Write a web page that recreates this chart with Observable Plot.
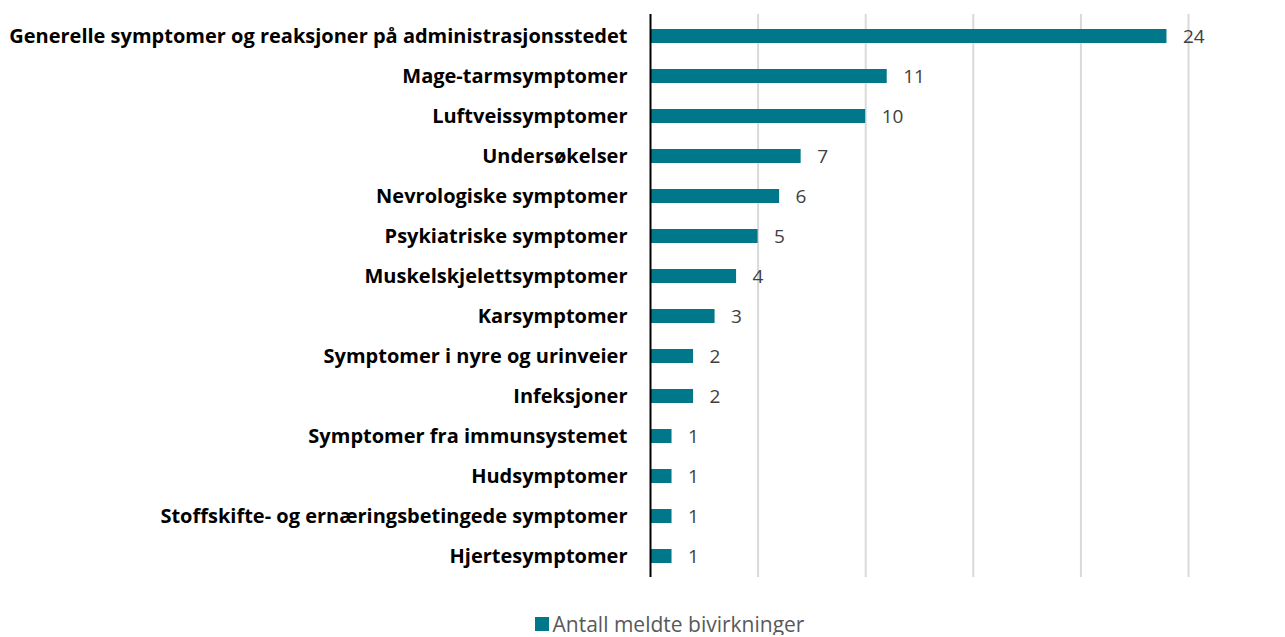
<!DOCTYPE html>
<html>
<head>
<meta charset="utf-8">
<script src="https://cdn.jsdelivr.net/npm/d3@7"></script>
<script src="https://cdn.jsdelivr.net/npm/@observablehq/plot@0.6"></script>
<style>
body{margin:0;background:#fff;font-family:"Open Sans",sans-serif;}
#legend{display:flex;justify-content:center;align-items:center;margin-left:54px;margin-top:13px;font-size:21px;color:#595959;line-height:22px;}
#legend span.sw{display:inline-block;width:14px;height:14px;background:#00788A;margin-right:4px;}
</style>
</head>
<body>
<div id="chart"></div>
<div id="legend"><span class="sw"></span><span>Antall meldte bivirkninger</span></div>
<script>
const categories = [
  "Generelle symptomer og reaksjoner på administrasjonsstedet",
  "Mage-tarmsymptomer",
  "Luftveissymptomer",
  "Undersøkelser",
  "Nevrologiske symptomer",
  "Psykiatriske symptomer",
  "Muskelskjelettsymptomer",
  "Karsymptomer",
  "Symptomer i nyre og urinveier",
  "Infeksjoner",
  "Symptomer fra immunsystemet",
  "Hudsymptomer",
  "Stoffskifte- og ernæringsbetingede symptomer",
  "Hjertesymptomer"
];
const values = [24, 11, 10, 7, 6, 5, 4, 3, 2, 2, 1, 1, 1, 1];
const gridTicks = [5, 10, 15, 20, 25];
const seriesName = "Antall meldte bivirkninger";

const data = categories.map((c, i) => ({category: c, value: values[i]}));

const chart = Plot.plot({
  width: 1285,
  height: 600,
  marginLeft: 650,
  marginRight: 97,
  marginTop: 14,
  marginBottom: 23,
  style: {fontFamily: "'Open Sans', sans-serif", background: "#fff"},
  x: {domain: [0, 25], axis: null},
  y: {domain: categories, paddingInner: 0.65, paddingOuter: 0.325, label: null},
  marks: [
    Plot.ruleX(gridTicks, {stroke: "#d9d9d9", strokeWidth: 2}),
    Plot.barX(data, {x: "value", y: "category", fill: "#00788A"}),
    Plot.text(data, {x: "value", y: "category", text: d => String(d.value), textAnchor: "start", dx: 16, fontSize: 19, fill: "#404040"}),
    Plot.ruleX([0], {stroke: "#000", strokeWidth: 2}),
    Plot.axisY({tickSize: 0, tickPadding: 23, fontSize: 20, fontWeight: "bold", fill: "#000", label: null})
  ]
});
document.getElementById("chart").appendChild(chart);
document.getElementById("legend").lastChild.textContent = seriesName;
</script>
</body>
</html>
